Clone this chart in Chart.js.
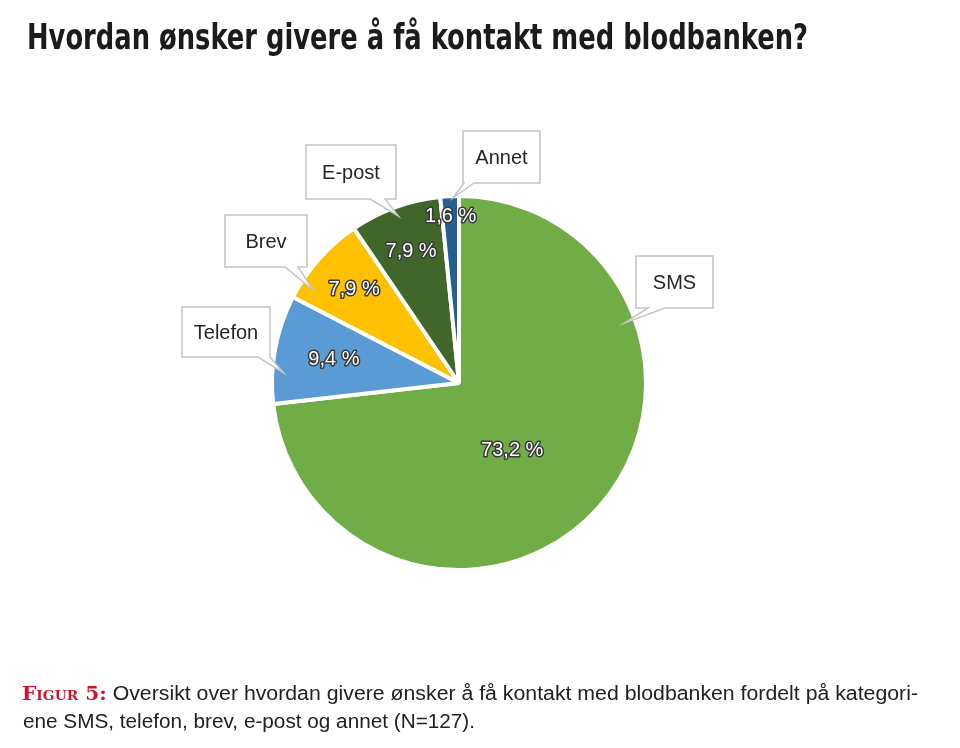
<!DOCTYPE html>
<html>
<head>
<meta charset="utf-8">
<script src="https://cdn.jsdelivr.net/npm/chart.js@4.4.1/dist/chart.umd.min.js"></script>
<style>
  html, body { margin: 0; padding: 0; background: #fff; width: 960px; height: 748px; overflow: hidden; }
  #wrap { position: relative; width: 960px; height: 748px; }
  #c { position: absolute; left: 0; top: 0; }
  .line { position: absolute; white-space: nowrap; transform-origin: 0 0; line-height: 1; }
  #title { left: 27px; top: 18.5px; font-family: "DejaVu Sans"; font-stretch: condensed; font-weight: bold; font-size: 36px; color: #1b1b1b; }
  .cap { font-family: "Liberation Sans", Arial, sans-serif; font-size: 20px; color: #222; }
  #cap1 { left: 22px; top: 683px; }
  #cap2 { left: 23px; top: 711px; }
  .fig { font-family: "DejaVu Serif", serif; font-weight: bold; color: #d3122c; font-variant: small-caps; font-size: 19px; }
</style>
</head>
<body>
<div id="wrap">
  <canvas id="c" width="960" height="748"></canvas>
  <div id="title" class="line">Hvordan ønsker givere å få kontakt med blodbanken?</div>
  <div id="cap1" class="line cap"><span class="fig">Figur 5:</span> Oversikt over hvordan givere ønsker å få kontakt med blodbanken fordelt på kategori-</div>
  <div id="cap2" class="line cap">ene SMS, telefon, brev, e-post og annet (N=127).</div>
</div>
<script>
// ---- data ----
const categories = ["SMS", "Telefon", "Brev", "E-post", "Annet"];
const percentValues = [73.2, 9.4, 7.9, 7.9, 1.6];
const valueLabels = ["73,2 %", "9,4 %", "7,9 %", "7,9 %", "1,6 %"];
const sliceColors = ["#70AD47", "#5B9BD5", "#FFC000", "#41662A", "#255E91"];

// ---- layout (label placement, not data) ----
const valueLabelPos = [ // radial fraction, angle shift (deg)
  {r: 0.46, shift: 10}, {r: 0.68, shift: 0}, {r: 0.75, shift: 0}, {r: 0.75, shift: 0}, {r: 0.89, shift: 0}
];
const calloutLayout = [ // box rect, tail base on bottom edge, tip: fraction along arc + radial fraction
  {x: 636, y: 256, w: 77, h: 52, b1: 648, b2: 665, t: 0.266, r: 0.94},
  {x: 182, y: 307, w: 88, h: 50, b1: 258, b2: 270, t: 0.29, r: 0.94},
  {x: 225, y: 215, w: 82, h: 52, b1: 285, b2: 298, t: 0.18, r: 0.925},
  {x: 306, y: 145, w: 90, h: 54, b1: 370, b2: 385, t: 0.5, r: 0.95},
  {x: 463, y: 131, w: 77, h: 52, b1: 464, b2: 474, t: 0.67, r: 0.99}
];

const labelPlugin = {
  id: 'labels',
  afterDatasetsDraw(chart) {
    const ctx = chart.ctx;
    const arcs = chart.getDatasetMeta(0).data;
    ctx.save();
    ctx.font = '20px "Liberation Sans", Arial, sans-serif';
    ctx.textAlign = 'center';
    ctx.textBaseline = 'middle';
    ctx.lineJoin = 'round';
    arcs.forEach((arc, i) => {
      const p = arc.getProps(['x', 'y', 'startAngle', 'endAngle', 'outerRadius'], true);
      const pos = valueLabelPos[i];
      const a = (p.startAngle + p.endAngle) / 2 + pos.shift * Math.PI / 180;
      const lx = p.x + Math.cos(a) * p.outerRadius * pos.r;
      const ly = p.y + Math.sin(a) * p.outerRadius * pos.r;
      ctx.lineWidth = 3;
      ctx.strokeStyle = '#3a3a3a';
      ctx.strokeText(valueLabels[i], lx, ly);
      ctx.fillStyle = '#ffffff';
      ctx.fillText(valueLabels[i], lx, ly);
    });
    arcs.forEach((arc, i) => {
      const p = arc.getProps(['x', 'y', 'startAngle', 'endAngle', 'outerRadius'], true);
      const L = calloutLayout[i];
      const a = p.startAngle + (p.endAngle - p.startAngle) * L.t;
      const tx = p.x + Math.cos(a) * p.outerRadius * L.r;
      const ty = p.y + Math.sin(a) * p.outerRadius * L.r;
      const bottom = L.y + L.h;
      ctx.beginPath();
      ctx.moveTo(L.x, L.y);
      ctx.lineTo(L.x + L.w, L.y);
      ctx.lineTo(L.x + L.w, bottom);
      ctx.lineTo(L.b2, bottom);
      ctx.lineTo(tx, ty);
      ctx.lineTo(L.b1, bottom);
      ctx.lineTo(L.x, bottom);
      ctx.closePath();
      ctx.fillStyle = '#ffffff';
      ctx.fill();
      ctx.lineWidth = 1.5;
      ctx.lineJoin = 'miter';
      ctx.strokeStyle = '#c4c4c4';
      ctx.stroke();
      ctx.fillStyle = '#262626';
      ctx.font = '20px "Liberation Sans", Arial, sans-serif';
      ctx.fillText(categories[i], L.x + L.w / 2, L.y + L.h / 2 + 1);
    });
    ctx.restore();
  }
};

new Chart(document.getElementById('c'), {
  type: 'pie',
  data: {
    labels: categories,
    datasets: [{
      data: percentValues,
      backgroundColor: sliceColors,
      borderColor: '#ffffff',
      borderWidth: 4
    }]
  },
  options: {
    responsive: false,
    animation: false,
    devicePixelRatio: 1,
    layout: { padding: { left: 270, right: 312, top: 194, bottom: 176 } },
    plugins: { legend: { display: false }, tooltip: { enabled: false }, title: { display: false } }
  },
  plugins: [labelPlugin]
});

function fit(id, width) {
  const el = document.getElementById(id);
  const w = el.getBoundingClientRect().width;
  el.style.transform = 'scaleX(' + (width / w) + ')';
}
fit('title', 781);
fit('cap1', 896);
fit('cap2', 452);
</script>
</body>
</html>
